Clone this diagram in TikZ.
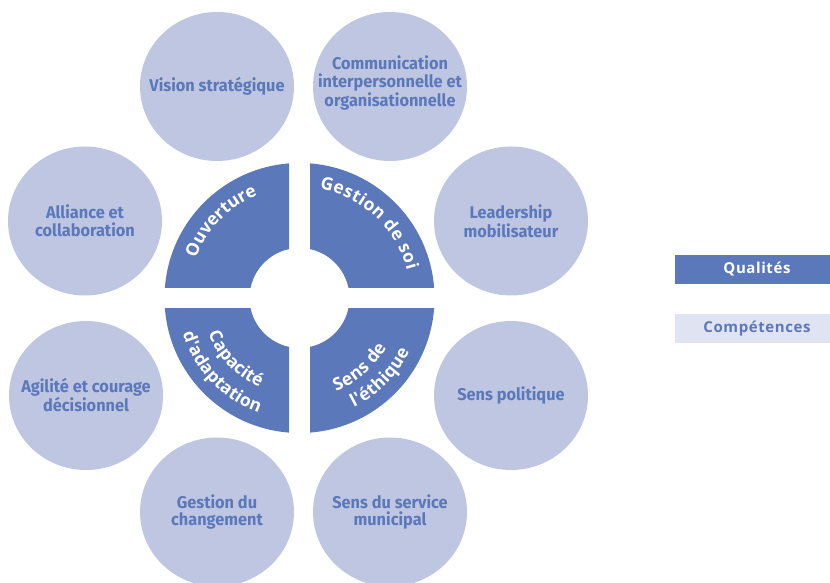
\documentclass[tikz,border=0pt]{standalone}
\usepackage{fontspec}
\usepackage{tikz}
\usetikzlibrary{backgrounds,decorations.text}
\setmainfont{Fira Sans}
\newfontfamily\compfont[FakeStretch=0.96]{Fira Sans}
\newfontfamily\qualfont{Open Sans}
\newfontfamily\legendfont[LetterSpace=4]{Open Sans}
\definecolor{qualblue}{HTML}{5B78BA}
\definecolor{compfill}{HTML}{BEC6E2}
\definecolor{legendfill}{HTML}{E0E4F2}
\newcommand\ringfont{\qualfont\bfseries\fontsize{17.5}{17.5}\selectfont}

\tikzset{
  comp/.style={align=center, text=qualblue, inner sep=0pt,
    font=\compfont\bfseries\fontsize{17}{17.5}\selectfont},
  compbg/.style={fill=compfill},
  legendbox/.style={minimum width=164, minimum height=28.5, inner sep=0pt,
    font=\legendfont\bfseries\fontsize{15}{15}\selectfont},
  ringtext/.style={decorate, decoration={text along path, text={|\ringfont|#1},
    text color=white, text align=fit to path}},
}

\begin{document}
\begin{tikzpicture}[x=1pt,y=1pt]
  \useasboundingbox (0,0) rectangle (830,583);

  % competences
  \node[comp] (vision) at (217,496.5) {Vision stratégique};
  \node[comp] (comm) at (390,500) {Communication\\interpersonnelle et\\organisationnelle};
  \node[comp] (alliance) at (85,362) {Alliance et\\collaboration};
  \node[comp] (leader) at (511,362) {Leadership\\mobilisateur};
  \node[comp] (agilite) at (86,187.5) {Agilité et courage\\décisionnel};
  \node[comp] (politique) at (511,187.5) {Sens politique};
  \node[comp] (changement) at (217,71) {Gestion du\\changement};
  \node[comp] (service) at (390,71) {Sens du service\\municipal};
  \begin{scope}[on background layer]
    \foreach \c in {vision,alliance,leader,agilite,politique,changement,service}
      \fill[compbg] (\c.center) ellipse [x radius=77, y radius=74.5];
    \fill[compbg] (390,496.5) ellipse [x radius=77, y radius=74.5];
  \end{scope}

  % qualites
  \coordinate (C) at (299.5,285);
  \foreach \sx/\sy in {-1/1,1/1,-1/-1,1/-1}{
    \begin{scope}
      \clip ([xshift=\sx*10.5pt,yshift=\sy*10.5pt]C) rectangle ++(\sx*140,\sy*140);
      \fill[qualblue,even odd rule] (C) circle[radius=135] (C) circle[radius=50];
    \end{scope}
  }
  \path[ringtext={Ouverture}] (C) ++(159.2:111) arc[start angle=159.2, end angle=112.3, radius=111];
  \path[ringtext={Gestion de soi}] (C) ++(79.6:111) arc[start angle=79.6, end angle=14.5, radius=111];
  \path[ringtext={Capacité}] (C) ++(201.5:98) arc[start angle=201.5, end angle=246, radius=98];
  \path[ringtext={d'adaptation}] (C) ++(197:122) arc[start angle=197, end angle=250.5, radius=122];
  \path[ringtext={Sens de}] (C) ++(-68.5:100) arc[start angle=-68.5, end angle=-29.5, radius=100];
  \path[ringtext={l'éthique}] (C) ++(-63.5:122) arc[start angle=-63.5, end angle=-25.8, radius=122];

  % legende
  \node[legendbox, fill=qualblue, text=white] (qual) at (757,313.5) {Qualités};
  \node[legendbox, fill=legendfill, text=qualblue] (compet) at (757,254.5) {Compétences};
\end{tikzpicture}
\end{document}
